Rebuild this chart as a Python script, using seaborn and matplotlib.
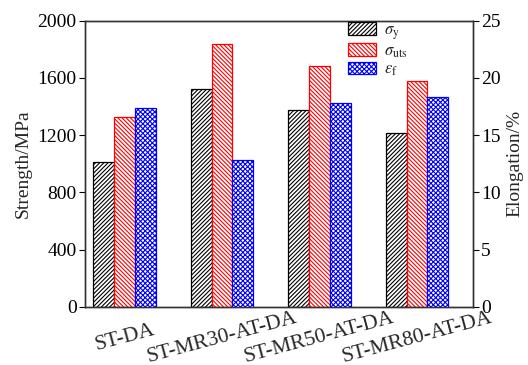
import matplotlib
matplotlib.use("Agg")
import matplotlib.pyplot as plt
from matplotlib.patches import Patch
from matplotlib.colors import to_rgb
import seaborn as sns
import pandas as pd

samples = ["ST-DA", "ST-MR30-AT-DA", "ST-MR50-AT-DA", "ST-MR80-AT-DA"]
yield_strength = [1015, 1520, 1373, 1217]
uts = [1324, 1837, 1681, 1580]
elongation = [17.4, 12.8, 17.8, 18.3]

labels = [r"$\sigma_{\rm y}$", r"$\sigma_{\rm uts}$", r"$\varepsilon_{\rm f}$"]
colors = ["black", "red", "blue"]
hatches = ["////////", "\\\\\\\\\\\\\\\\", "xxxxxxx"]

sns.set_theme(style="white")
plt.rcParams["font.family"] = ["Liberation Serif", "DejaVu Serif"]
plt.rcParams["mathtext.fontset"] = "stix"
plt.rcParams["hatch.linewidth"] = 0.8

df_s = pd.DataFrame({
    "sample": samples * 2,
    "value": yield_strength + uts,
    "prop": [labels[0]] * 4 + [labels[1]] * 4,
})
df_e = pd.DataFrame({
    "sample": samples,
    "value": elongation,
    "prop": [labels[2]] * 4,
})

fig = plt.figure(figsize=(5.28, 3.65), dpi=100)
ax = fig.add_axes([85 / 528, (365 - 306.7) / 365, 388 / 528, 286 / 365])
ax2 = ax.twinx()

pal = dict(zip(labels, colors))
sns.barplot(data=df_s, x="sample", y="value", hue="prop", hue_order=labels,
            order=samples, palette=pal, width=0.64, ax=ax, legend=False,
            errorbar=None, saturation=1, dodge=True)
sns.barplot(data=df_e, x="sample", y="value", hue="prop", hue_order=labels,
            order=samples, palette=pal, width=0.64, ax=ax2, legend=False,
            errorbar=None, saturation=1, dodge=True)

rgb_to_hatch = {to_rgb(c): h for c, h in zip(colors, hatches)}
for a in (ax, ax2):
    for p in a.patches:
        rgb = tuple(round(v, 3) for v in p.get_facecolor()[:3])
        key = min(rgb_to_hatch, key=lambda k: sum((k[i] - rgb[i]) ** 2 for i in range(3)))
        p.set_edgecolor(key)
        p.set_facecolor("white")
        p.set_hatch(rgb_to_hatch[key])
        p.set_linewidth(0.9)

ax.set_ylim(0, 2000)
ax.set_yticks([0, 400, 800, 1200, 1600, 2000])
ax2.set_ylim(0, 25)
ax2.set_yticks([0, 5, 10, 15, 20, 25])
ax.set_xlim(-0.405, 3.574)

ax.set_xlabel("")
ax.set_ylabel("Strength/MPa", fontsize=14)
ax2.set_ylabel("Elongation/%", fontsize=14)

ax.tick_params(axis="y", direction="out", length=4, width=0.8, labelsize=14,
               left=True, pad=2, colors="black")
ax2.tick_params(axis="y", direction="out", length=4, width=0.8, labelsize=14,
                right=True, pad=2, colors="black")
ax.tick_params(axis="x", length=0, pad=22, labelsize=15.5)
for t in ax.get_xticklabels():
    t.set_rotation(15)
    t.set_ha("center")
    t.set_va("center")
    t.set_rotation_mode("anchor")

for a in (ax, ax2):
    for s in a.spines.values():
        s.set_color("#333333")
        s.set_linewidth(1.0)

handles = [Patch(facecolor="white", edgecolor=c, hatch=h, label=l, linewidth=0.9)
           for l, c, h in zip(labels, colors, hatches)]
ax2.legend(handles=handles, loc="upper left",
           bbox_to_anchor=((348 - 85) / 388, 0.995), frameon=False,
           borderpad=0, borderaxespad=0, fontsize=12, handlelength=1.65,
           handleheight=0.8, labelspacing=0.1, handletextpad=0.5)

fig.savefig("out.png", dpi=100)
